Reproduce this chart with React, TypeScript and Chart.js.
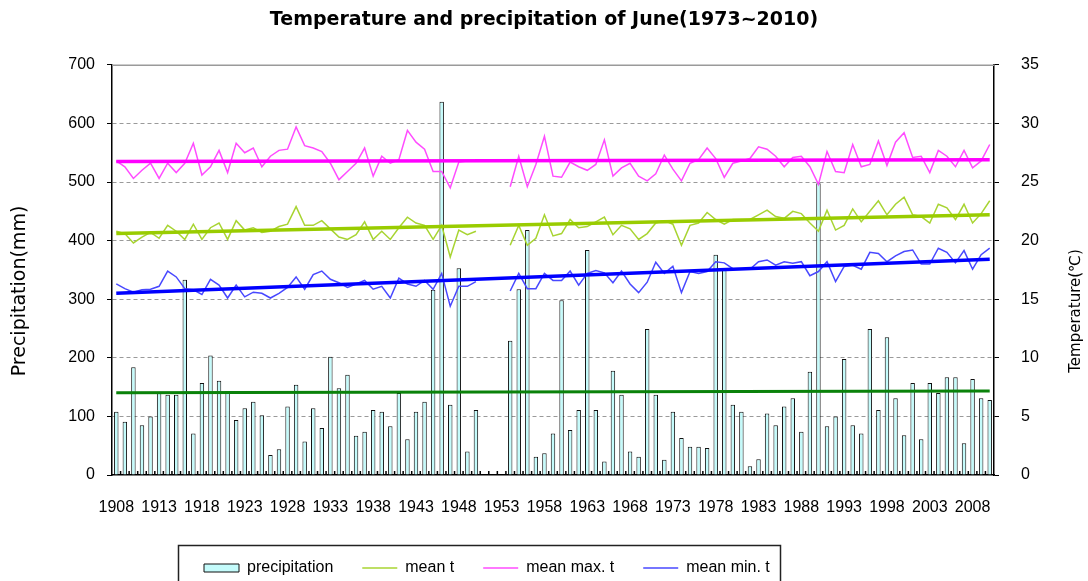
import React, { useEffect, useRef } from "react";
import { Chart, registerables } from "chart.js";

Chart.register(...registerables);

// ---------------- data ----------------
const firstYear = 1908;
const lastYear = 2010;
const years: string[] = Array.from({ length: lastYear - firstYear + 1 }, (_, i) => String(firstYear + i));

const xTickLabels = [
  "1908", "1913", "1918", "1923", "1928", "1933", "1938", "1943", "1948", "1953", "1958",
  "1963", "1968", "1973", "1978", "1983", "1988", "1993", "1998", "2003", "2008",
];

// June precipitation (mm), 1908-2010 (1951-1953 missing)
const precipitation: (number | null)[] = [
  108, 91, 184, 85, 100, 140, 137, 137, 333, 71,
  157, 204, 161, 140, 94, 114, 125, 102, 34, 44,
  117, 154, 57, 114, 80, 202, 148, 171, 67, 74,
  111, 108, 83, 140, 61, 108, 125, 316, 637, 120,
  353, 40, 111, null, null, null, 229, 317, 418, 31,
  37, 71, 298, 77, 111, 384, 111, 23, 178, 137,
  40, 31, 249, 137, 26, 108, 63, 48, 48, 46,
  376, 351, 120, 108, 15, 27, 105, 85, 117, 131,
  74, 176, 498, 83, 100, 198, 85, 71, 249, 111,
  235, 131, 68, 157, 61, 157, 140, 167, 167, 54,
  164, 131, 128,
];

// mean temperature (°C)
const meanT: (number | null)[] = [
  20.8, 20.6, 19.8, 20.3, 20.7, 20.2, 21.3, 20.8, 20.1, 21.4,
  20.1, 21.1, 21.5, 20.1, 21.7, 20.9, 21.1, 20.7, 20.8, 21.2,
  21.4, 22.9, 21.3, 21.3, 21.7, 21.0, 20.3, 20.1, 20.5, 21.6,
  20.1, 20.8, 20.1, 21.1, 22.0, 21.5, 21.3, 20.1, 21.3, 18.6,
  20.9, 20.5, 20.8, null, null, null, 19.6, 21.3, 19.6, 20.2,
  22.2, 20.4, 20.6, 21.8, 21.1, 21.2, 21.6, 22.0, 20.5, 21.3,
  21.0, 20.1, 20.6, 21.5, 21.7, 21.4, 19.6, 21.3, 21.5, 22.4,
  21.8, 21.4, 21.8, 21.8, 21.8, 22.2, 22.6, 22.05, 21.9, 22.5,
  22.3, 21.5, 20.8, 22.6, 20.9, 21.3, 22.7, 21.6, 22.5, 23.4,
  22.2, 23.1, 23.7, 22.2, 22.05, 21.5, 23.1, 22.8, 21.8, 23.1,
  21.5, 22.3, 23.4,
];

// mean maximum temperature (°C)
const meanMaxT: (number | null)[] = [
  26.8, 26.3, 25.3, 26.0, 26.6, 25.3, 26.6, 25.8, 26.6, 28.3,
  25.6, 26.3, 27.7, 25.8, 28.3, 27.5, 27.9, 26.3, 27.2, 27.7,
  27.8, 29.7, 28.1, 27.9, 27.6, 26.6, 25.2, 25.9, 26.6, 27.9,
  25.5, 27.2, 26.6, 26.9, 29.4, 28.4, 27.8, 25.9, 25.9, 24.5,
  26.7, 26.8, 26.8, null, null, null, 24.6, 27.2, 24.6, 26.5,
  28.9, 25.5, 25.4, 26.7, 26.3, 26.0, 26.5, 28.6, 25.5, 26.2,
  26.6, 25.5, 25.1, 25.7, 27.3, 26.1, 25.1, 26.6, 26.9, 27.9,
  27.0, 25.4, 26.6, 26.8, 27.0, 28.0, 27.8, 27.2, 26.3, 27.1,
  27.2, 26.3, 24.8, 27.6, 25.9, 25.8, 28.2, 26.3, 26.5, 28.5,
  26.4, 28.4, 29.2, 27.1, 27.2, 25.8, 27.7, 27.2, 26.3, 27.7,
  26.2, 26.8, 28.2,
];

// mean minimum temperature (°C)
const meanMinT: (number | null)[] = [
  16.3, 15.9, 15.6, 15.8, 15.85, 16.1, 17.4, 16.9, 15.9, 15.8,
  15.4, 16.7, 16.2, 15.1, 16.2, 15.2, 15.6, 15.5, 15.1, 15.5,
  16.0, 16.9, 15.85, 17.1, 17.4, 16.7, 16.4, 16.0, 16.3, 16.6,
  15.85, 16.1, 15.1, 16.8, 16.3, 16.1, 16.6, 15.85, 17.2, 14.4,
  16.1, 16.1, 16.5, null, null, null, 15.7, 17.2, 15.9, 15.9,
  17.2, 16.6, 16.6, 17.4, 16.2, 17.2, 17.45, 17.25, 16.4, 17.4,
  16.3, 15.56, 16.45, 18.15, 17.2, 17.8, 15.56, 17.36, 17.2, 17.36,
  18.2, 18.1, 17.6, 17.6, 17.56, 18.2, 18.35, 17.9, 18.2, 18.07,
  18.2, 17.0, 17.36, 18.2, 16.5, 17.8, 17.9, 17.56, 19.0, 18.9,
  18.2, 18.7, 19.07, 19.2, 18.0, 18.0, 19.35, 19.0, 18.1, 19.15,
  17.56, 18.8, 19.35,
];

// linear trend lines: [value at 1908, value at 2010]
const precipTrend = [140.5, 143.5];
const meanTTrend = [20.6, 22.2];
const meanMaxTTrend = [26.75, 26.9];
const meanMinTTrend = [15.5, 18.4];

const precipTicks = { min: 0, max: 700, step: 100 };
const tempTicks = { min: 0, max: 35, step: 5 };

const leftTitle = "Precipitation(mm)";
const rightTitle = "Temperature(℃)";

// ---------------- styling ----------------
const SANS = "'Liberation Sans', Arial, sans-serif";
const DEJAVU = "'DejaVu Sans', sans-serif";

const W = 1088;
const H = 581;
const AREA = { left: 112, right: 994, top: 65, bottom: 475 };

const framePlugin = {
  id: "frameTicks",
  afterDatasetsDraw(chart: any) {
    const { ctx, chartArea: a, scales } = chart;
    const x = scales.x;
    ctx.save();
    ctx.strokeStyle = "#9a9a9a";
    ctx.lineWidth = 1.5;
    ctx.beginPath();
    ctx.moveTo(a.left, a.top + 0.5);
    ctx.lineTo(a.right, a.top + 0.5);
    ctx.stroke();
    const n = chart.data.labels.length;
    const half = (x.getPixelForValue(1) - x.getPixelForValue(0)) / 2;
    ctx.strokeStyle = "#000";
    ctx.lineWidth = 1.5;
    ctx.beginPath();
    for (let i = 1; i < n; i++) {
      const px = x.getPixelForValue(i) - half;
      ctx.moveTo(px, a.bottom);
      ctx.lineTo(px, a.bottom - 4);
    }
    ctx.stroke();
    ctx.restore();
  },
  afterDraw(chart: any) {
    // axis titles, both reading bottom to top
    const { ctx } = chart;
    const drawV = (text: string, cx: number, cy: number, size: number) => {
      ctx.save();
      ctx.translate(cx, cy);
      ctx.rotate(-Math.PI / 2);
      ctx.fillStyle = "#000";
      ctx.font = `${size}px ${DEJAVU}`;
      ctx.textAlign = "center";
      ctx.textBaseline = "middle";
      ctx.fillText(text, 0, 0);
      ctx.restore();
    };
    drawV(leftTitle, 20, 291, 19);
    drawV(rightTitle, W - 12, 311, 15);
  },
};

const legendFramePlugin = {
  id: "legendFrame",
  afterLayout(chart: any) {
    const lg = chart.legend;
    if (!lg) return;
    lg.left = 175;
    lg.top = 531;
  },
  afterDraw(chart: any) {
    const lg = chart.legend;
    const hb = lg && lg.legendHitBoxes;
    if (!hb || !hb.length) return;
    const ctx = chart.ctx;
    const first = hb[0];
    const last = hb[hb.length - 1];
    const l = first.left - 26;
    const r = last.left + last.width + 10;
    ctx.save();
    ctx.strokeStyle = "#222";
    ctx.lineWidth = 1.5;
    ctx.strokeRect(Math.round(l) + 0.5, 545.5, Math.round(r - l), 60);
    ctx.restore();
  },
};

export default function App() {
  const ref = useRef<HTMLCanvasElement>(null);

  useEffect(() => {
    document.body.style.margin = "0";
    const n = years.length;
    const trend = (t: number[]) => years.map((_, i) => (i === 0 ? t[0] : i === n - 1 ? t[1] : null));

    const chart = new Chart(ref.current as HTMLCanvasElement, {
      type: "bar",
      data: {
        labels: years,
        datasets: [
          {
            type: "bar",
            label: "precipitation",
            data: precipitation,
            yAxisID: "y",
            backgroundColor: "#c4fbfb",
            borderColor: "#111",
            borderWidth: 1,
            barPercentage: 0.52,
            categoryPercentage: 1,
            order: 10,
            pointStyle: "rect",
          } as any,
          {
            type: "line",
            label: "mean t",
            data: meanT,
            yAxisID: "y1",
            borderColor: "#a8d432",
            backgroundColor: "#a8d432",
            borderWidth: 1.5,
            pointRadius: 0,
            tension: 0,
            order: 4,
            pointStyle: "line",
          },
          {
            type: "line",
            label: "mean max. t",
            data: meanMaxT,
            yAxisID: "y1",
            borderColor: "#ff4cff",
            backgroundColor: "#ff4cff",
            borderWidth: 1.5,
            pointRadius: 0,
            tension: 0,
            order: 4,
            pointStyle: "line",
          },
          {
            type: "line",
            label: "mean min. t",
            data: meanMinT,
            yAxisID: "y1",
            borderColor: "#4848ff",
            backgroundColor: "#4848ff",
            borderWidth: 1.5,
            pointRadius: 0,
            tension: 0,
            order: 4,
            pointStyle: "line",
          },
          {
            type: "line",
            label: "precipitation trend",
            data: trend(precipTrend),
            yAxisID: "y",
            borderColor: "#0a820a",
            borderWidth: 3,
            pointRadius: 0,
            spanGaps: true,
            order: 2,
          },
          {
            type: "line",
            label: "mean t trend",
            data: trend(meanTTrend),
            yAxisID: "y1",
            borderColor: "#99cc00",
            borderWidth: 3.5,
            pointRadius: 0,
            spanGaps: true,
            order: 1,
          },
          {
            type: "line",
            label: "mean max. t trend",
            data: trend(meanMaxTTrend),
            yAxisID: "y1",
            borderColor: "#ff00ff",
            borderWidth: 3.5,
            pointRadius: 0,
            spanGaps: true,
            order: 1,
          },
          {
            type: "line",
            label: "mean min. t trend",
            data: trend(meanMinTTrend),
            yAxisID: "y1",
            borderColor: "#0000ff",
            borderWidth: 3.5,
            pointRadius: 0,
            spanGaps: true,
            order: 1,
          },
        ] as any,
      },
      options: {
        responsive: false,
        animation: false,
        layout: { padding: 0 },
        plugins: {
          title: {
            display: true,
            text: "Temperature and precipitation of June(1973~2010)",
            color: "#000",
            font: { family: DEJAVU, size: 19, weight: "bold" },
            padding: { top: 9, bottom: 33 },
          },
          legend: {
            display: true,
            position: "bottom",
            align: "start",
            labels: {
              usePointStyle: true,
              pointStyleWidth: 35,
              boxHeight: 8,
              padding: 29,
              color: "#000",
              font: { family: SANS, size: 16 },
              filter: (item: any) => item.datasetIndex < 4,
              sort: (a: any, b: any) => a.datasetIndex - b.datasetIndex,
            },
          },
          tooltip: { enabled: false },
        },
        scales: {
          x: {
            type: "category",
            offset: true,
            grid: { display: false, drawTicks: false, tickLength: 0 },
            border: { display: true, color: "#000", width: 1.5 },
            ticks: {
              autoSkip: false,
              maxRotation: 0,
              minRotation: 0,
              padding: 23,
              color: "#000",
              font: { family: SANS, size: 16 },
              callback: (_v: any, i: number) => (xTickLabels.includes(years[i]) ? years[i] : ""),
            },
            afterFit: (s: any) => {
              const lh = s.chart.legend ? s.chart.legend.height : 54;
              s.height = H - AREA.bottom - lh;
            },
          },
          y: {
            type: "linear",
            position: "left",
            min: precipTicks.min,
            max: precipTicks.max,
            ticks: { stepSize: precipTicks.step, color: "#000", padding: 12, font: { family: SANS, size: 16 } },
            grid: {
              color: (c: any) => (c.tick && (c.tick.value === precipTicks.min || c.tick.value === precipTicks.max) ? "rgba(0,0,0,0)" : "#9a9a9a"),
              lineWidth: 1,
              tickColor: "#000",
              tickLength: 5,
            },
            border: { color: "#000", width: 1.5, dash: [4, 3] },
            title: { display: false },
            afterFit: (s: any) => {
              s.width = AREA.left;
            },
          },
          y1: {
            type: "linear",
            position: "right",
            min: tempTicks.min,
            max: tempTicks.max,
            ticks: { stepSize: tempTicks.step, color: "#000", padding: 22, font: { family: SANS, size: 16 } },
            grid: { drawOnChartArea: false, tickColor: "#000", tickLength: 5 },
            border: { color: "#000", width: 1.5 },
            title: { display: false },
            afterFit: (s: any) => {
              s.width = W - AREA.right;
            },
          },
        },
      } as any,
      plugins: [framePlugin, legendFramePlugin],
    });

    return () => chart.destroy();
  }, []);

  return (
    <div style={{ position: "fixed", left: 0, top: 0, width: W, height: H, background: "#fff" }}>
      <canvas ref={ref} width={W} height={H} style={{ display: "block" }} />
    </div>
  );
}
